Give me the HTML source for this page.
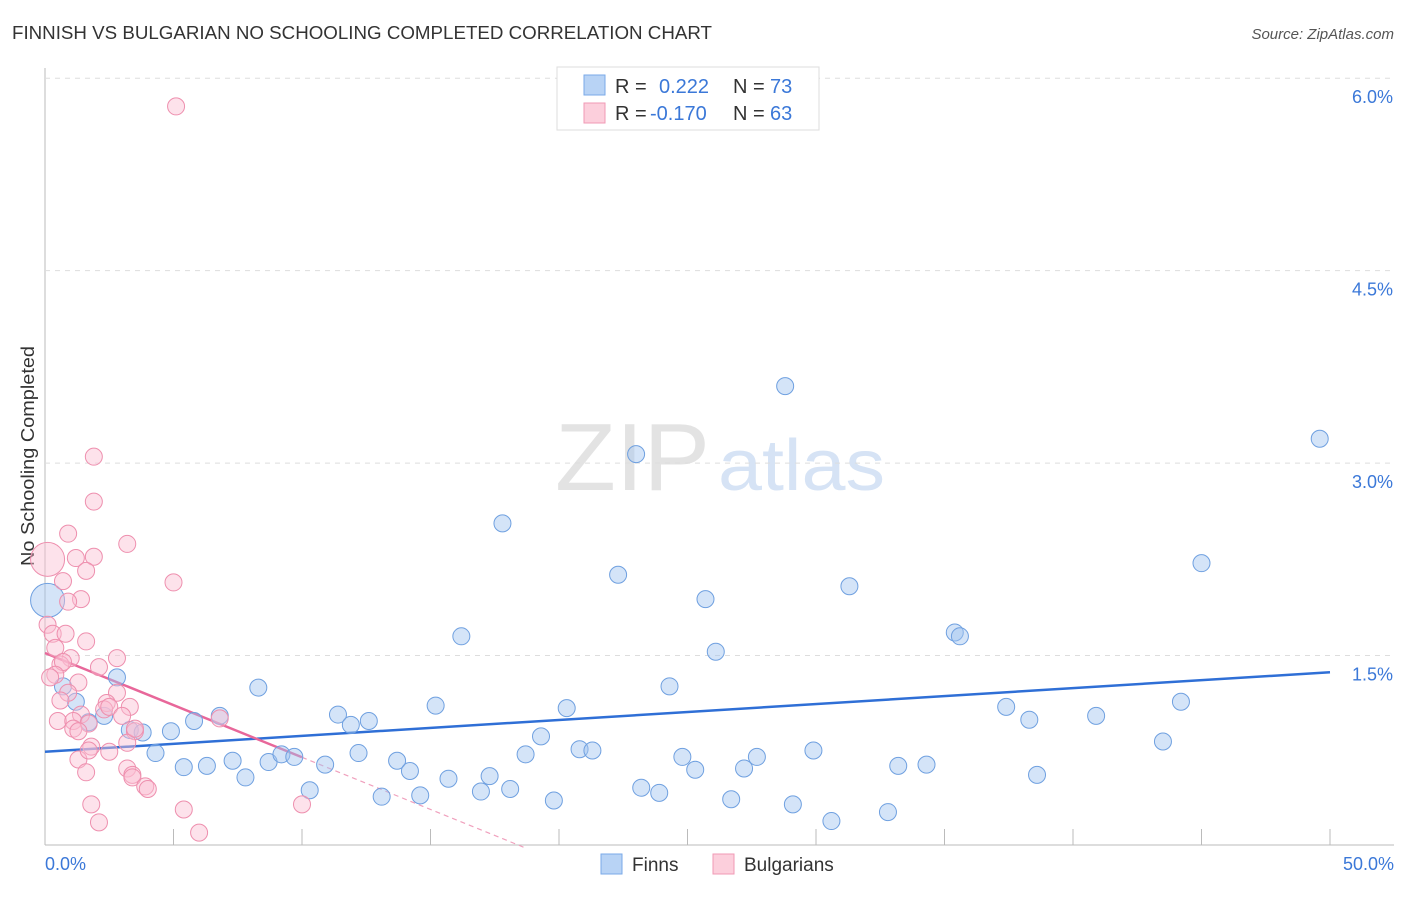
<!DOCTYPE html>
<html><head><meta charset="utf-8"><style>
body{margin:0;background:#fff;font-family:"Liberation Sans",sans-serif;}
svg text{font-family:"Liberation Sans",sans-serif;}
</style></head><body>
<svg id="chart" width="1406" height="892">
<text x="12" y="39" font-size="18" fill="#333" textLength="700" lengthAdjust="spacingAndGlyphs">FINNISH VS BULGARIAN NO SCHOOLING COMPLETED CORRELATION CHART</text>
<text x="1394" y="39" font-size="15" fill="#555" font-style="italic" text-anchor="end">Source: ZipAtlas.com</text>
<text x="34" y="456" font-size="18" fill="#333" transform="rotate(-90 34 456)" text-anchor="middle" textLength="220" lengthAdjust="spacingAndGlyphs">No Schooling Completed</text>
<g><text x="555" y="490" font-size="96" fill="#e3e3e3" font-family="Liberation Serif" textLength="155" lengthAdjust="spacingAndGlyphs">ZIP</text><text x="718" y="490" font-size="72" fill="#d6e3f5" textLength="167" lengthAdjust="spacingAndGlyphs">atlas</text></g>
<g id="grid"></g><g id="xticks"></g><g id="lines"></g><g id="pts"></g>
<g>
<rect x="557" y="67" width="262" height="63" fill="#fff" stroke="#ddd"/>
<rect x="584" y="75" width="21" height="20" fill="#b8d3f5" stroke="#7aaae8"/>
<rect x="584" y="103" width="21" height="20" fill="#fccfdc" stroke="#f09ab5"/>
<text x="615" y="93" font-size="20" fill="#333">R =</text><text x="659" y="93" font-size="20" fill="#3b78d8">0.222</text>
<text x="733" y="93" font-size="20" fill="#333">N =</text><text x="770" y="93" font-size="20" fill="#3b78d8">73</text>
<text x="615" y="120" font-size="20" fill="#333">R =</text><text x="650" y="120" font-size="20" fill="#3b78d8">-0.170</text>
<text x="733" y="120" font-size="20" fill="#333">N =</text><text x="770" y="120" font-size="20" fill="#3b78d8">63</text>
</g>
<g>
<rect x="601" y="854" width="21" height="20" fill="#b8d3f5" stroke="#7aaae8"/>
<text x="632" y="871" font-size="19" fill="#333">Finns</text>
<rect x="713" y="854" width="21" height="20" fill="#fccfdc" stroke="#f09ab5"/>
<text x="744" y="871" font-size="19" fill="#333">Bulgarians</text>
</g>
<text x="45" y="870" font-size="18" fill="#3b78d8">0.0%</text>
<text x="1394" y="870" font-size="18" fill="#3b78d8" text-anchor="end">50.0%</text>
</svg>
<script>
const yTicks=[1.5,3.0,4.5,6.0];
const yTickLabels=["1.5%","3.0%","4.5%","6.0%"];
const finnsX=[0.1,2.8,0.7,1.2,2.3,1.7,3.3,3.8,4.3,4.9,5.4,5.8,6.3,6.8,7.3,7.8,8.3,8.7,9.2,9.7,10.3,10.9,11.4,11.9,12.2,12.6,13.1,13.7,14.2,14.6,15.2,15.7,16.2,16.962,17.3,17.8,18.1,18.7,19.3,19.8,20.3,20.8,21.3,22.3,23.0,23.2,23.9,24.3,24.8,25.3,25.7,26.1,26.7,27.2,27.7,28.8,29.1,29.9,30.6,31.3,32.8,33.2,34.3,35.4,35.6,37.4,38.3,38.6,40.9,43.5,44.2,45.0,49.6];
const finnsY=[1.93,1.33,1.26,1.14,1.03,0.98,0.92,0.90,0.74,0.91,0.63,0.99,0.64,1.03,0.68,0.55,1.25,0.67,0.73,0.71,0.45,0.65,1.04,0.96,0.74,0.99,0.40,0.68,0.60,0.41,1.11,0.54,1.65,0.44,0.56,2.53,0.46,0.73,0.87,0.37,1.09,0.77,0.76,2.13,3.07,0.47,0.43,1.26,0.71,0.61,1.94,1.53,0.38,0.62,0.71,3.60,0.34,0.76,0.21,2.04,0.28,0.64,0.65,1.68,1.65,1.10,1.00,0.57,1.03,0.83,1.14,2.22,3.19];
const bulgX=[0.1,5.1,1.9,1.9,0.9,3.2,1.2,1.9,1.6,5.0,0.7,1.4,0.9,0.1,0.3,0.8,1.6,0.4,1.0,2.1,2.8,0.6,0.7,0.4,0.2,1.3,0.9,0.6,2.8,2.4,3.3,2.3,2.5,6.8,1.4,3.0,0.5,1.1,1.7,1.1,1.3,3.5,1.8,2.5,3.2,1.3,1.6,3.2,3.4,3.4,3.9,4.0,1.8,5.4,10.0,2.1,5.996,3.5,1.7];
const bulgY=[2.25,5.78,3.05,2.70,2.45,2.37,2.26,2.27,2.16,2.07,2.08,1.94,1.92,1.74,1.67,1.67,1.61,1.56,1.48,1.41,1.48,1.43,1.45,1.35,1.33,1.29,1.21,1.15,1.21,1.13,1.10,1.08,1.10,1.01,1.04,1.03,0.99,0.99,0.97,0.93,0.91,0.91,0.79,0.75,0.82,0.69,0.59,0.62,0.57,0.55,0.48,0.46,0.34,0.30,0.34,0.20,0.12,0.93,0.76];
const finnsReg=[0.75,1.37];
const bulgReg=[1.52,0.0];
const sx=v=>45+v*25.7, sy=v=>848-v*128.3;
const NS="http://www.w3.org/2000/svg";
function mk(p,t,a){const e=document.createElementNS(NS,t);for(const k in a)e.setAttribute(k,a[k]);document.getElementById(p).appendChild(e);return e;}
let ax=mk('grid','line',{x1:45,y1:68,x2:45,y2:845,stroke:'#bbb'});


let bx=mk('grid','line',{x1:45,y1:845,x2:1394,y2:845,stroke:'#bbb'});


yTicks.forEach((v,i)=>{
 const g=mk('grid','line',{x1:45,y1:sy(v),x2:1394,y2:sy(v),stroke:'#ddd','stroke-dasharray':'5,5'});
 
 
 const t=mk('grid','text',{x:1393,y:sy(v)+25,'font-size':18,fill:'#3b78d8','text-anchor':'end'});
 t.textContent=yTickLabels[i];
 
 
});
for(let i=1;i<=10;i++){const x=sx(i*5);
 const t=mk('xticks','line',{x1:x,y1:829,x2:x,y2:845,stroke:'#bbb'});
 
 }
finnsX.forEach((x,i)=>{const c=mk('pts','circle',{cx:sx(x),cy:sy(finnsY[i]),r:i==0?17:8.5,fill:'rgba(160,196,240,0.45)',stroke:'#6fa0e0','stroke-width':1});
 
 });
bulgX.forEach((x,i)=>{const c=mk('pts','circle',{cx:sx(x),cy:sy(bulgY[i]),r:i==0?17:8.5,fill:'rgba(250,190,210,0.45)',stroke:'#ee8fae','stroke-width':1});
 
 });
let l1=mk('lines','line',{x1:sx(0),y1:sy(finnsReg[0]),x2:sx(50),y2:sy(finnsReg[1]),stroke:'#2f6fd6','stroke-width':2.5});


const bAt=x=>bulgReg[0]+(bulgReg[1]-bulgReg[0])*x/18.7;
let l2=mk('lines','line',{x1:sx(0),y1:sy(bAt(0)),x2:sx(10),y2:sy(bAt(10)),stroke:'#e8679a','stroke-width':2.5});


let l3=mk('lines','line',{x1:sx(10),y1:sy(bAt(10)),x2:sx(18.7),y2:sy(bAt(18.7)),stroke:'#f0a0bd','stroke-width':1.2,'stroke-dasharray':'5,4'});


</script>
</body></html>
